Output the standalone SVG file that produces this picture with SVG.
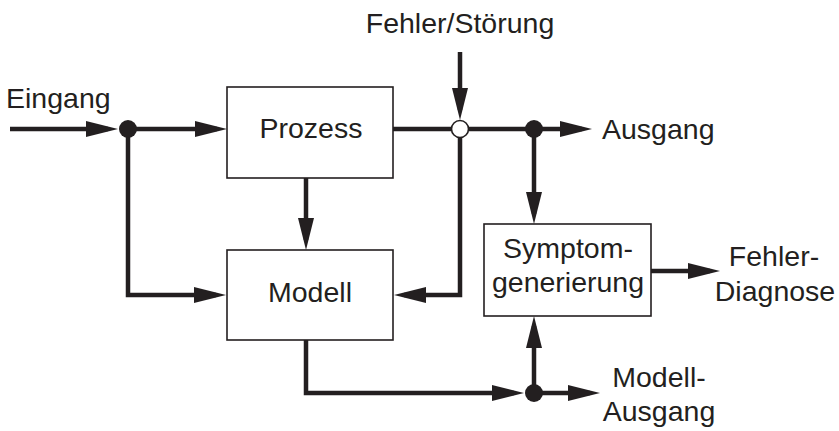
<svg xmlns="http://www.w3.org/2000/svg" width="839" height="431" viewBox="0 0 839 431">
  <style>
    .box { fill: #ffffff; stroke: #231f20; stroke-width: 1.6; }
    .lbl { font-family: "Liberation Sans", Arial, sans-serif; font-size: 28.5px; fill: #231f20; }
    .mid { text-anchor: middle; }
    .wire { fill: none; stroke: #231f20; stroke-width: 4.5; stroke-linejoin: miter; }
    .arr { marker-end: url(#head); }
    .dot { fill: #231f20; }
    .sum { fill: #ffffff; stroke: #231f20; stroke-width: 1.6; }
  </style>
  <defs>
    <marker id="head" markerUnits="userSpaceOnUse" markerWidth="34" markerHeight="18" refX="22" refY="8" orient="auto" viewBox="0 0 34 18">
      <path d="M0,0 L32,8 L0,16 Z" fill="#231f20"/>
    </marker>
  </defs>

  <rect width="839" height="431" fill="#ffffff"/>

  <g id="connectors">
    <!-- Eingang into branch point -->
    <path class="wire arr" d="M10,129 L108,129"/>
    <!-- branch point to Prozess -->
    <path class="wire arr" d="M128,129 L217,129"/>
    <!-- branch point down to Modell -->
    <path class="wire arr" d="M128,129 L128,295 L216,295"/>
    <!-- Prozess to Modell -->
    <path class="wire arr" d="M306,178 L306,240"/>
    <!-- Prozess output through summing point to Ausgang -->
    <path class="wire arr" d="M393,129 L582,129"/>
    <!-- disturbance into summing point -->
    <path class="wire arr" d="M460,52 L460,110"/>
    <!-- measured output fed back to Modell -->
    <path class="wire arr" d="M460,129 L460,295 L404,295"/>
    <!-- Ausgang down to Symptomgenerierung -->
    <path class="wire arr" d="M534,129 L534,214"/>
    <!-- Modell output -->
    <path class="wire arr" d="M306,340 L306,393 L514,393"/>
    <path class="wire arr" d="M534,393 L590,393"/>
    <path class="wire arr" d="M534,393 L534,326"/>
    <!-- Symptomgenerierung to diagnosis -->
    <path class="wire arr" d="M651,271 L710,271"/>
    <!-- junctions -->
    <circle class="dot" cx="128" cy="129" r="9"/>
    <circle class="dot" cx="534" cy="129" r="9"/>
    <circle class="dot" cx="534" cy="393" r="9"/>
    <circle class="sum" cx="460" cy="129" r="8.5"/>
  </g>

  <g id="prozess">
    <rect class="box" x="227" y="87" width="166" height="91"/>
    <text class="lbl mid" x="311" y="138">Prozess</text>
  </g>

  <g id="modell">
    <rect class="box" x="227" y="250" width="166" height="90"/>
    <text class="lbl mid" x="310" y="302">Modell</text>
  </g>

  <g id="symptomgenerierung">
    <rect class="box" x="484" y="224" width="167" height="92"/>
    <text class="lbl mid" x="568" y="258">Symptom-</text>
    <text class="lbl mid" x="568" y="292">generierung</text>
  </g>

  <g id="labels">
    <text class="lbl" x="6" y="108">Eingang</text>
    <text class="lbl mid" x="460" y="33">Fehler/Störung</text>
    <text class="lbl" x="602" y="139">Ausgang</text>
    <text class="lbl mid" x="774" y="266">Fehler-</text>
    <text class="lbl mid" x="775" y="301">Diagnose</text>
    <text class="lbl mid" x="659" y="387">Modell-</text>
    <text class="lbl mid" x="659" y="421">Ausgang</text>
  </g>
</svg>
